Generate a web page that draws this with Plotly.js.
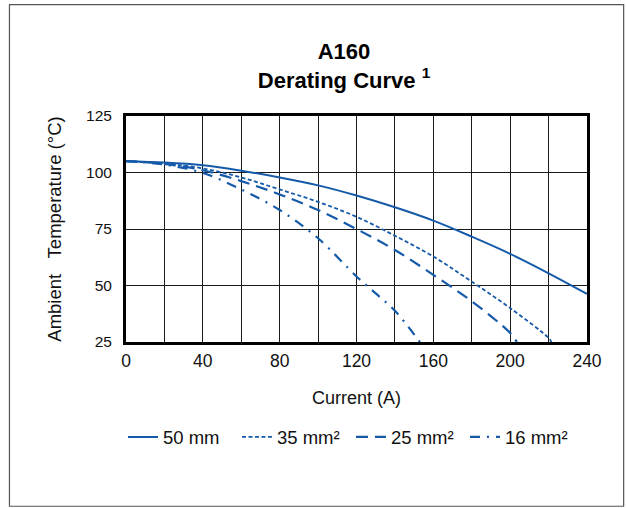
<!DOCTYPE html>
<html>
<head>
<meta charset="utf-8">
<script src="https://cdn.plot.ly/plotly-3.0.1.min.js"></script>
<style>
html,body{margin:0;padding:0;background:#fff;}
#chart{width:626px;height:508px;}
</style>
</head>
<body>
<div id="chart"></div>
<script>
// Current (A) and ambient temperature (°C)
const x50 = [0, 20, 40, 60, 80, 100, 120, 140, 160, 180, 200, 220, 240];
const y50 = [105, 104.4, 103.2, 100.8, 97.8, 94.3, 89.8, 84.6, 78.7, 71.6, 64, 55.4, 46.3];

const x35 = [0, 20, 40, 60, 80, 100, 120, 140, 160, 180, 200, 220, 221.5];
const y35 = [105, 104, 101.8, 97.8, 92.5, 87, 80.4, 72, 62.8, 51.7, 40, 26.8, 25];

const x25 = [0, 20, 40, 60, 80, 100, 120, 140, 160, 180, 200, 203.5];
const y25 = [105, 103.8, 101, 96.2, 90.3, 83.4, 75, 65.7, 54.7, 43, 29, 25];

const x16 = [0, 20, 40, 60, 80, 100, 120, 130, 140, 153];
const y16 = [105, 103.5, 99.8, 92.5, 83.4, 70.9, 54, 46.5, 38.8, 25];

const seriesNames = ['50 mm', '35 mm²', '25 mm²', '16 mm²'];
const xTicks = [0, 40, 80, 120, 160, 200, 240];
const yTicks = [25, 50, 75, 100, 125];

const BLUE = '#155aa8';
const FONT = 'Liberation Sans, Arial, sans-serif';

const traces = [
  {x: x50, y: y50, name: seriesNames[0], dash: 'solid', w: 2},
  {x: x35, y: y35, name: seriesNames[1], dash: '4px,2.5px', w: 1.8},
  {x: x25, y: y25, name: seriesNames[2], dash: '12px,7px', w: 2.2},
  {x: x16, y: y16, name: seriesNames[3], dash: '10px,7px,2px,7px', w: 2.2}
].map(s => ({
  x: s.x, y: s.y, name: s.name, type: 'scatter', mode: 'lines',
  line: {color: BLUE, width: s.w, dash: s.dash, shape: 'spline', smoothing: 1}
}));

const layout = {
  width: 626, height: 508,
  paper_bgcolor: '#fff', plot_bgcolor: '#fff',
  font: {family: FONT, color: '#111', size: 15},
  margin: {l: 125.7, r: 38.7, t: 115.7, b: 165.7, pad: 0},
  title: {
    text: '<b>A160</b><br><b>Derating Curve <sup>1</sup></b>',
    font: {family: FONT, size: 22, color: '#000'},
    x: 344 / 626, xanchor: 'center', xref: 'container',
    y: 1 - 59 / 508, yanchor: 'top', yref: 'container'
  },
  xaxis: {
    range: [0, 240], tickvals: xTicks, ticktext: xTicks.map(String),
    showgrid: true, gridcolor: '#1a1a1a', gridwidth: 1,
    minor: {dtick: 20, tick0: 0, showgrid: true, gridcolor: '#1a1a1a', gridwidth: 1},
    showline: true, mirror: true, linecolor: '#000', linewidth: 3,
    ticks: 'outside', ticklen: 1, tickcolor: 'rgba(0,0,0,0)',
    zeroline: false, tickfont: {size: 17.5, color: '#111'},
    title: {text: 'Current (A)', font: {size: 18, color: '#111'}, standoff: 22}
  },
  yaxis: {
    range: [25, 125], tickvals: yTicks, ticktext: yTicks.map(String),
    showgrid: true, gridcolor: '#1a1a1a', gridwidth: 1,
    showline: true, mirror: true, linecolor: '#000', linewidth: 3,
    ticks: 'outside', ticklen: 8, tickcolor: 'rgba(0,0,0,0)',
    zeroline: false, tickfont: {size: 15.5, color: '#111'},
    title: {text: 'Ambient\u00a0\u00a0\u00a0Temperature (°C)', font: {size: 18.5, color: '#111'}, standoff: 20}
  },
  showlegend: true,
  legend: {
    orientation: 'h', x: 0.488, xanchor: 'center', y: -0.422, yanchor: 'middle',
    font: {size: 18.5, color: '#111'}, bgcolor: 'rgba(0,0,0,0)',
    itemwidth: 30, tracegroupgap: 0,
    entrywidth: 69, entrywidthmode: 'pixels'
  },
  shapes: [{
    type: 'rect', xref: 'paper', yref: 'paper',
    x0: (9 - 125.7) / 461.6, x1: (624 - 125.7) / 461.6,
    y0: (342.3 - 507) / 226.6, y1: (342.3 - 4) / 226.6,
    line: {color: '#555', width: 1.2}, fillcolor: 'rgba(0,0,0,0)', layer: 'below'
  }]
};

Plotly.newPlot('chart', traces, layout, {displayModeBar: false, staticPlot: true});
</script>
</body>
</html>
